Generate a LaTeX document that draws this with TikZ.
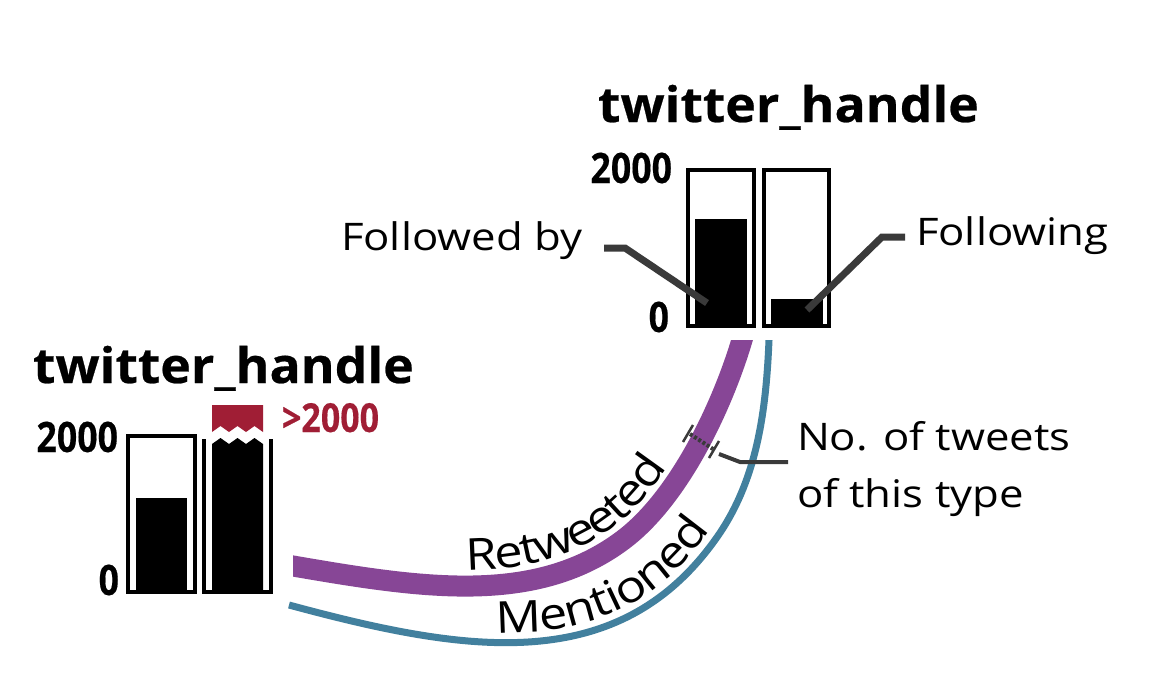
\documentclass[tikz,border=0pt]{standalone}
\usepackage{fontspec}
\setmainfont{Open Sans}
\newfontfamily\lblfont[FakeStretch=1.15]{Open Sans}
\newfontfamily\handlefont[FakeStretch=1.055,FakeBold=0.5]{Open Sans}
\newfontfamily\numfont[FakeStretch=0.85,FakeBold=0.3]{Open Sans}
\usetikzlibrary{decorations.text}
\definecolor{rtpurple}{RGB}{135,70,150}
\definecolor{mnblue}{RGB}{66,128,158}
\definecolor{bigred}{RGB}{160,30,53}
\definecolor{leadgray}{RGB}{58,58,58}
\newcommand{\lblsize}{\lblfont\fontsize{38}{42}\selectfont}
\newcommand{\pathsize}{\lblfont\fontsize{44}{48}\selectfont}
\tikzset{
  lbl/.style={inner sep=0pt, outer sep=0pt, font=\lblsize},
  handle/.style={inner sep=0pt, outer sep=0pt, font=\handlefont\bfseries\fontsize{49}{52}\selectfont},
  axnum/.style={inner sep=0pt, outer sep=0pt, font=\numfont\bfseries\fontsize{42}{44}\selectfont},
  rednum/.style={inner sep=0pt, outer sep=0pt, text=bigred, font=\numfont\bfseries\fontsize{40}{42}\selectfont},
  barframe/.style={draw=black, line width=4.5pt, inner sep=0pt, outer sep=0pt},
  barfill/.style={fill=black, inner sep=0pt, outer sep=0pt},
  leader/.style={draw=leadgray, line width=7pt},
  thinleader/.style={draw=leadgray, line width=4pt},
}
\begin{document}
\begin{tikzpicture}[x=1pt,y=-1pt]
\useasboundingbox (0,0) rectangle (1165,680);
\fill[white] (0,0) rectangle (1165,680);

% ---------- top chart ----------
\node[handle, anchor=base west] (th) at (598,122) {twitter\_handle};
\node[axnum, anchor=base east] (t2000) at (672,183) {2000};
\node[axnum, anchor=base east] (t0) at (669,332) {0};
\node[barframe, minimum width=66pt, minimum height=156pt, anchor=north west] (tb1) at (688,170) {};
\node[barframe, minimum width=65pt, minimum height=156pt, anchor=north west] (tb2) at (764,170) {};
\node[barfill, minimum width=52pt, minimum height=107pt, anchor=south west] (tf1) at (695,326) {};
\node[barfill, minimum width=52pt, minimum height=27pt, anchor=south west] (tf2) at (771,326) {};

\node[lbl, anchor=base west] (fb) at (341,250) {Followed by};
\node[lbl, anchor=base west] (fg) at (916,245) {Following};
\coordinate (fbs) at (604,248);
\coordinate (fbk) at (625,248);
\coordinate (fbe) at (707,303);
\draw[leader] (fbs) -- (fbk) -- (fbe);
\coordinate (fgs) at (905,237);
\coordinate (fgk) at (882,237);
\coordinate (fge) at (807,310);
\draw[leader] (fgs) -- (fgk) -- (fge);

% ---------- bottom-left chart ----------
\node[handle, anchor=base west] (bh) at (33,383) {twitter\_handle};
\node[axnum, anchor=base east] (b2000) at (118,452) {2000};
\node[axnum, anchor=base east] (b0) at (119,595) {0};
\node[barframe, minimum width=67pt, minimum height=156pt, anchor=north west] (bb1) at (128,436) {};
\node[barfill, minimum width=51pt, minimum height=94pt, anchor=south west] (bf1) at (136,592) {};
\draw[black, line width=4.5pt] (204,439) -- (204,592) -- (271,592) -- (271,439);
\fill[black] (212,592) -- (212,444) -- (220.5,438) -- (229,444) -- (237.5,438) -- (246,444) -- (254.5,438) -- (263,444) -- (263,592) -- cycle;
\fill[bigred] (212,405) -- (263,405) -- (263,432) -- (254.5,426) -- (246,432) -- (237.5,426) -- (229,432) -- (220.5,426) -- (212,432) -- cycle;
\node[rednum, anchor=base west] (gt) at (282,432) {>2000};

% ---------- connecting bands ----------
\coordinate (rs) at (293,566);
\coordinate (rm) at (623,540);
\coordinate (re) at (742,340);
\coordinate (ms) at (289,605);
\coordinate (mm) at (715,540);
\coordinate (me) at (769,340);
\begin{scope}
\clip (293,340) rectangle (1000,700);
\draw[rtpurple, line width=21pt] (280,563.8) -- (rs) .. controls (421,588) and (535,606) .. (rm)
  .. controls (679,498) and (722,407) .. (re) -- (745.5,328);
\end{scope}
\begin{scope}
\clip (0,340) rectangle (1000,700);
\draw[mnblue, line width=7pt] (ms) .. controls (463,652) and (616,678) .. (mm)
  .. controls (757,482) and (766,412) .. (me) -- (769.4,328);
\end{scope}

\path[decorate, decoration={text along path, text={|\pathsize|Retweeted}, raise=16pt, text align={left indent=176pt}}]
  (rs) .. controls (421,588) and (535,606) .. (rm) .. controls (679,498) and (722,407) .. (re);
\path[decorate, decoration={text along path, text={|\pathsize|Mentioned}, raise=10pt, text align={left indent=212pt}}]
  (ms) .. controls (463,652) and (616,678) .. (mm) .. controls (757,482) and (766,412) .. (me);

% ---------- width indicator ----------
\coordinate (d1) at (690,434);
\coordinate (d2) at (713,449);
\draw[leadgray, line width=2.5pt] (683,442) -- (693,425);
\draw[leadgray, line width=2.5pt] (709,458) -- (719,441);
\draw[leadgray, line width=4pt, dash pattern=on 3pt off 2pt] (d1) -- (d2);
\node[lbl, anchor=base west] (nt1) at (797,450) {No. of tweets};
\node[lbl, anchor=base west] (nt2) at (797,507) {of this type};
\coordinate (ls) at (719,454);
\coordinate (lk) at (740,462);
\coordinate (le) at (788,462);
\draw[thinleader] (ls) -- (lk) -- (le);
\end{tikzpicture}
\end{document}
